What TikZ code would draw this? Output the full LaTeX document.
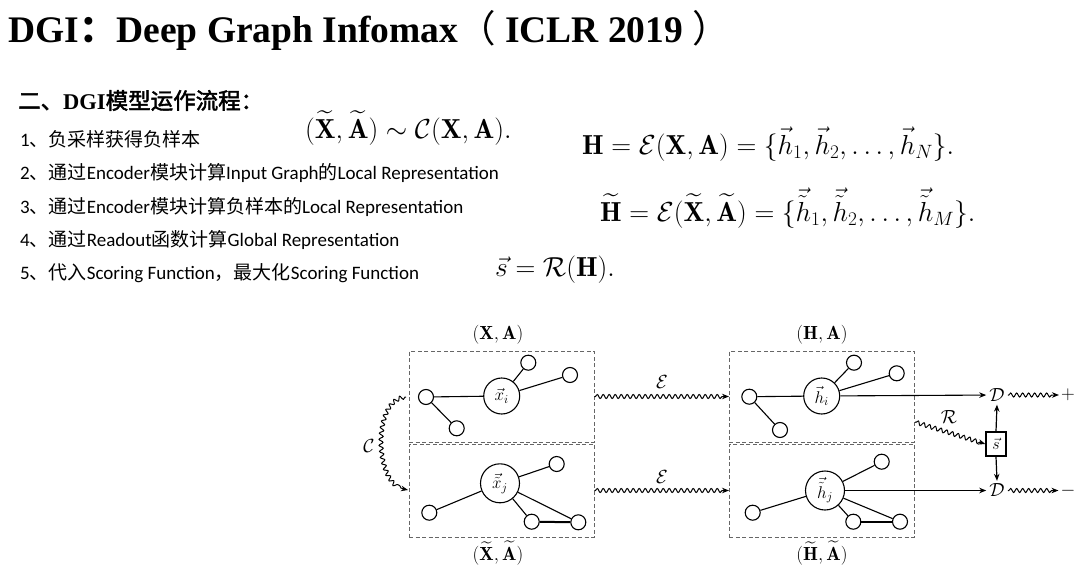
\RequirePackage{fix-cm}
\documentclass[tikz,border=0pt]{standalone}
\usepackage{amsmath,amssymb}
\usepackage{fontspec}
\usetikzlibrary{decorations.pathmorphing,arrows.meta}
\newfontfamily\zh{Noto Sans CJK SC}
\newfontfamily\zhb{Noto Sans CJK SC}[FakeBold=2]
\newfontfamily\lat{Carlito}
\newfontfamily\titlef{Liberation Serif}
\begin{document}
\begin{tikzpicture}[x=1pt,y=-1pt,
  big/.style={circle,draw,line width=1.1pt,minimum size=36pt,inner sep=0pt,font=\fontsize{17}{20}\selectfont},
  bigb/.style={big,minimum size=39pt},
  sm/.style={circle,draw,line width=1.1pt,minimum size=15pt,inner sep=0pt},
  dbox/.style={draw=black!60,dash pattern=on 4pt off 2.5pt,line width=0.7pt,minimum width=185pt,minimum height=91pt,inner sep=0pt},
  gedge/.style={line width=1.1pt},
  snk/.style={decorate,decoration={snake,amplitude=2pt,segment length=6pt,pre length=1pt,post length=5pt},line width=1pt},
  arr/.style={-{Stealth[length=7pt,width=5.5pt]}},
  mlab/.style={font=\fontsize{19}{22}\selectfont,inner sep=2pt},
  eqn/.style={anchor=base west,inner sep=0pt,font=\fontsize{27.5}{32}\selectfont},
  body/.style={anchor=base west,inner sep=0pt,font=\fontsize{19}{22}\selectfont\lat}
]
\useasboundingbox (0,0) rectangle (1080,565);
\fill[white] (0,0) rectangle (1080,565);

% title
\node[anchor=base west,inner sep=0pt,font=\fontsize{37.5}{40}\selectfont] (title) at (8,42)
  {\titlef\bfseries DGI{\zh ：}Deep Graph Infomax{\zh\mdseries （} ICLR 2019 {\zh\mdseries ）}};

% heading and steps
\node[anchor=base west,inner sep=0pt,font=\fontsize{22.5}{26}\selectfont] (head) at (18,109)
  {{\zhb 二、}{\titlef\bfseries DGI}{\zhb 模型运作流程：}};
\node[body] (s1) at (20,146) {1{\zh 、负采样获得负样本}};
\node[body] (s2) at (20,179) {2{\zh 、通过}Encoder{\zh 模块计算}Input Graph{\zh 的}Local Representation};
\node[body] (s3) at (20,213) {3{\zh 、通过}Encoder{\zh 模块计算负样本的}Local Representation};
\node[body] (s4) at (20,246) {4{\zh 、通过}Readout{\zh 函数计算}Global Representation};
\node[body] (s5) at (20,279) {5{\zh 、代入}Scoring Function{\zh ，最大化}Scoring Function};

% equations
\node[eqn] (e1) at (305,138) {$(\widetilde{\mathbf{X}},\widetilde{\mathbf{A}})\sim\mathcal{C}(\mathbf{X},\mathbf{A}).$};
\node[eqn] (e2) at (582,154) {$\mathbf{H}=\mathcal{E}(\mathbf{X},\mathbf{A})=\{\vec{h}_1,\vec{h}_2,\ldots,\vec{h}_N\}.$};
\node[eqn] (e3) at (600,221) {$\widetilde{\mathbf{H}}=\mathcal{E}(\widetilde{\mathbf{X}},\widetilde{\mathbf{A}})=\{\vec{\tilde{h}}_1,\vec{\tilde{h}}_2,\ldots,\vec{\tilde{h}}_M\}.$};
\node[eqn] (e4) at (495,276) {$\vec{s}=\mathcal{R}(\mathbf{H}).$};

% boxes
\node[dbox] (bXA) at (501.5,396.5) {};
\node[dbox,minimum height=93pt] (bXt) at (501.5,490.5) {};
\node[dbox] (bHA) at (821.8,396.5) {};
\node[dbox,minimum height=93pt] (bHt) at (821.8,490.5) {};
\node[mlab] (lXA) at (498,335) {$(\mathbf{X},\mathbf{A})$};
\node[mlab] (lXt) at (498,553) {$(\widetilde{\mathbf{X}},\widetilde{\mathbf{A}})$};
\node[mlab] (lHA) at (822,335) {$(\mathbf{H},\mathbf{A})$};
\node[mlab] (lHt) at (822,553) {$(\widetilde{\mathbf{H}},\widetilde{\mathbf{A}})$};

% top-left graph
\node[big] (xi) at (501.7,396) {$\vec{x}_i$};
\node[sm] (a1) at (426,397) {};
\node[sm] (a2) at (456.7,428.3) {};
\node[sm] (a3) at (528.3,362.7) {};
\node[sm] (a4) at (570,375) {};
\draw[gedge] (a1)--(xi) (a1)--(a2) (xi)--(a3) (xi)--(a4);

% bottom-left graph
\node[bigb] (xj) at (500,483.3) {$\vec{\tilde{x}}_j$};
\node[sm] (b1) at (556.7,464) {};
\node[sm] (b2) at (429.3,512.7) {};
\node[sm] (b3) at (531.7,521.7) {};
\node[sm] (b4) at (578.3,522.3) {};
\draw[gedge] (xj)--(b1) (xj)--(b2) (xj)--(b3) (xj)--(b4);
\draw[line width=2pt] (b3)--(b4);

% top-right graph
\node[big] (hi) at (821.7,396) {$\vec{h}_i$};
\node[sm] (c1) at (749.3,396.7) {};
\node[sm] (c2) at (780,430) {};
\node[sm] (c3) at (854,362.7) {};
\node[sm] (c4) at (896.7,373.3) {};
\draw[gedge] (c1)--(hi) (c1)--(c2) (hi)--(c3) (hi)--(c4);

% bottom-right graph
\node[bigb] (hj) at (825,490.5) {$\vec{\tilde{h}}_j$};
\node[sm] (d1) at (881.7,461.7) {};
\node[sm] (d2) at (752.7,512.7) {};
\node[sm] (d3) at (853.3,521.7) {};
\node[sm] (d4) at (900,521.7) {};
\draw[gedge] (hj)--(d1) (hj)--(d2) (hj)--(d3) (hj)--(d4);
\draw[line width=2pt] (d3)--(d4);

% corruption
\coordinate (cs) at (406,397);
\coordinate (ce) at (408,490);
\draw[snk,arr] (cs) to[out=185,in=175,looseness=0.9] (ce);
\node[mlab] (lC) at (369,446) {$\mathcal{C}$};

% encoders
\draw[snk,arr] (bXA.east) -- (bHA.west);
\node[mlab] (lE1) at (662,382) {$\mathcal{E}$};
\draw[snk,arr] (bXt.east) -- (bHt.west);
\node[mlab] (lE2) at (662,477) {$\mathcal{E}$};

% discriminator part
\node[mlab,inner sep=3pt] (D1) at (997,395) {$\mathcal{D}$};
\node[mlab,inner sep=3pt] (D2) at (997,490.5) {$\mathcal{D}$};
\node[mlab] (plus) at (1068,395) {$+$};
\node[mlab] (minus) at (1068,490.5) {$-$};
\node[draw,line width=1.4pt,minimum width=20pt,minimum height=24pt,inner sep=0pt,font=\fontsize{16}{18}\selectfont] (s) at (996,444) {$\vec{s}$};
\draw[gedge,arr] (hi) -- (D1);
\draw[gedge,arr] (hj) -- (D2);
\draw[snk,arr] (D1.east) -- (plus.west);
\draw[snk,arr] (D2.east) -- (minus.west);
\draw[line width=1.2pt,arr] (s.north) -- (D1.south);
\draw[line width=1.2pt,arr] (s.south) -- (D2.north);
\coordinate (rs) at (915,422);
\draw[snk,arr] (rs) -- (s.west);
\node[mlab] (lR) at (949,417) {$\mathcal{R}$};
\end{tikzpicture}
\end{document}
